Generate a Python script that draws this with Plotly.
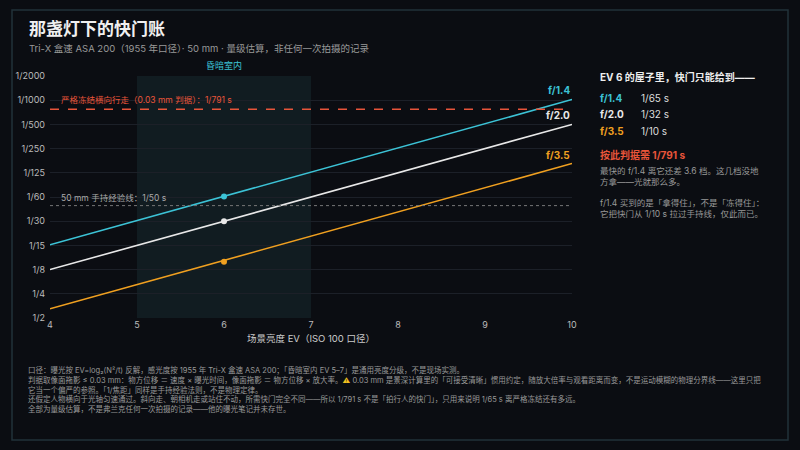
import plotly.graph_objects as go
import math

ev_range = [4, 10]
apertures = ["f/1.4", "f/2.0", "f/3.5"]
colors = ["#3cc3d6", "#e8e8e8", "#f0a020"]
speeds_ev4 = [16.3, 8.0, 2.6]
speeds_ev10 = [1045, 512, 167]
ev_mark = 6
speeds_ev6 = [65, 32, 10]
freeze_speed = 791
handheld_speed = 50
tick_vals = [2, 4, 8, 16, 32, 64, 128, 256, 512, 1024, 2048]
tick_text = ["1/2", "1/4", "1/8", "1/15", "1/30", "1/60", "1/125", "1/250", "1/500", "1/1000", "1/2000"]

BG = "#0b0d12"
FONT = "Inter, Noto Sans CJK SC"
fig = go.Figure()

fig.add_vrect(x0=5, x1=7, fillcolor="#16262c", opacity=0.6, line_width=0, layer="below")
fig.add_annotation(x=6, y=1, yref="paper", yanchor="bottom", yshift=3, text="昏暗室内",
                   showarrow=False, font=dict(color="#3cc3d6", size=9))

for name, c, a, b, m in zip(apertures, colors, speeds_ev4, speeds_ev10, speeds_ev6):
    fig.add_trace(go.Scatter(x=ev_range, y=[a, b], mode="lines", line=dict(color=c, width=1.6),
                             showlegend=False, hoverinfo="skip"))
    fig.add_trace(go.Scatter(x=[ev_mark], y=[m], mode="markers", marker=dict(color=c, size=6),
                             showlegend=False, hoverinfo="skip"))
    fig.add_annotation(x=10, y=math.log10(b), text=f"<b>{name}</b>", showarrow=False,
                       xanchor="right", yanchor="bottom", yshift=1, font=dict(color=c, size=10))

fig.add_hline(y=freeze_speed, line=dict(color="#e8553a", width=1.4, dash="dash"))
fig.add_annotation(x=4.1, y=math.log10(freeze_speed), text="严格冻结横向行走（0.03 mm 判据）：1/791 s",
                   showarrow=False, xanchor="left", yanchor="bottom", yshift=2,
                   font=dict(color="#e8553a", size=8.5))
fig.add_hline(y=handheld_speed, line=dict(color="#777", width=1, dash="dot"))
fig.add_annotation(x=4.1, y=math.log10(handheld_speed), text="50 mm 手持经验线：1/50 s",
                   showarrow=False, xanchor="left", yanchor="bottom", yshift=1,
                   font=dict(color="#aaa", size=8.5))

fig.update_xaxes(range=[4, 10], dtick=1, showgrid=False, zeroline=False, showline=False,
                 tickfont=dict(color="#bbb", size=9), ticks="", automargin=False,
                 title=dict(text="场景亮度 EV（ISO 100 口径）", font=dict(color="#ccc", size=9.5), standoff=6))
fig.update_yaxes(type="log", range=[math.log10(2), math.log10(2048)], tickvals=tick_vals,
                 ticktext=tick_text, showgrid=True, gridcolor="#1c2028", zeroline=False,
                 tickfont=dict(color="#bbb", size=9), automargin=False, ticklabelstandoff=4)

def px(x): return (x - 50) / 522
def py(y): return (318 - y) / 242

def txt(x, y, s, size=9, color="#bbb"):
    fig.add_annotation(x=px(x), y=py(y), xref="paper", yref="paper", text=s, showarrow=False,
                       xanchor="left", yanchor="top", align="left", font=dict(size=size, color=color))

fig.add_shape(type="rect", xref="paper", yref="paper", x0=px(12), x1=px(788), y0=py(440), y1=py(10),
              line=dict(color="#22323a", width=1.5), fillcolor="rgba(0,0,0,0)", layer="below")

txt(27, 17, "<b>那盏灯下的快门账</b>", size=17, color="#f0f0f0")
txt(27, 41, "Tri-X 盒速 ASA 200（1955 年口径）· 50 mm · 量级估算，非任何一次拍摄的记录", size=9.5, color="#999")

txt(598, 69, "<b>EV 6 的屋子里，快门只能给到——</b>", size=10, color="#eee")
rows_y = [90, 106, 123]
for name, c, m, y in zip(apertures, colors, speeds_ev6, rows_y):
    txt(598, y, f"<b>{name}</b>", size=10, color=c)
    txt(639, y, f"1/{m} s", size=10, color="#ddd")
txt(598, 147, f"<b>按此判据需 1/{freeze_speed} s</b>", size=10, color="#e8553a")
txt(598, 164, "最快的 f/1.4 离它还差 3.6 档。这几档没地<br>方拿——光就那么多。", size=8.5, color="#999")
txt(598, 196, "f/1.4 买到的是「拿得住」，不是「冻得住」：<br>它把快门从 1/10 s 拉过手持线，仅此而已。", size=8.5, color="#999")

foot = ("口径：曝光按 EV=log₂(N²/t) 反解，感光度按 1955 年 Tri-X 盒速 ASA 200；「昏暗室内 EV 5–7」是通用亮度分级，不是现场实测。<br>"
        "判据取像面拖影 ≤ 0.03 mm：物方位移 ＝ 速度 × 曝光时间，像面拖影 ＝ 物方位移 × 放大率。<span style='color:#f0c020'>⚠</span> 0.03 mm 是景深计算里的「可接受清晰」惯用约定，随放大倍率与观看距离而变，不是运动模糊的物理分界线——这里只把<br>"
        "它当一个偏严的参照。「1/焦距」同样是手持经验法则，不是物理定律。<br>"
        "还假定人物横向于光轴匀速通过。斜向走、朝相机走或站住不动，所需快门完全不同——所以 1/791 s 不是「拍行人的快门」，只用来说明 1/65 s 离严格冻结还有多远。<br>"
        "全部为量级估算，不是弗兰克任何一次拍摄的记录——他的曝光笔记并未存世。")
txt(26, 363, foot, size=7.5, color="#999")

fig.update_layout(width=800, height=450, paper_bgcolor=BG, plot_bgcolor=BG,
                  margin=dict(l=50, r=228, t=76, b=132, autoexpand=False), font=dict(family=FONT, color="#bbb"))
fig.write_html("out.html", config={"displayModeBar": False},
               post_script="document.body.style.margin='0';document.body.style.background='#0b0d12';")
